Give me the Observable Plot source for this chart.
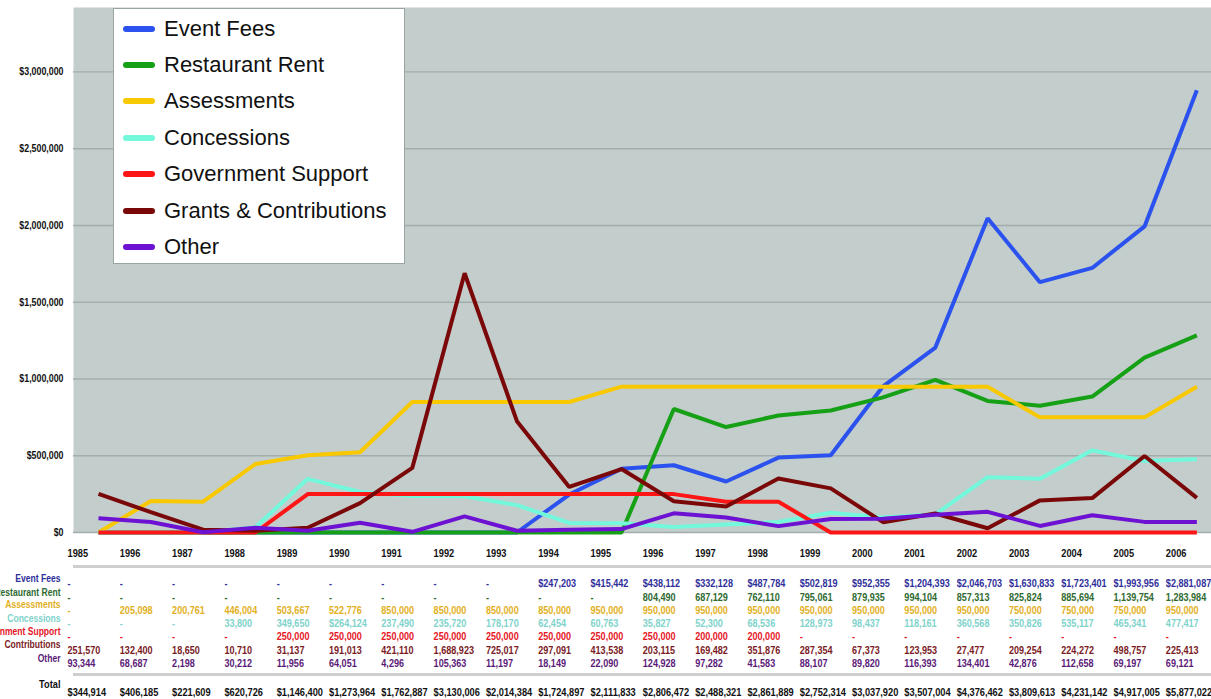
<!DOCTYPE html>
<html>
<head>
<meta charset="utf-8">
<script src="https://cdn.jsdelivr.net/npm/d3@7"></script>
<script src="https://cdn.jsdelivr.net/npm/@observablehq/plot@0.6"></script>
<style>
  html, body { margin:0; padding:0; background:#fff; overflow:hidden; }
  #wrap { position:relative; width:1211px; height:699px; }
  #legend { position:absolute; left:113px; top:8px; width:290px; height:254px; background:#fff; border:1px solid #9aa5a4; font-family:"Liberation Sans", Arial, sans-serif; }
  .li { position:absolute; left:0; height:30px; display:flex; align-items:center; }
  .sw { width:32px; height:6px; border-radius:3px; margin-left:9px; margin-right:9px; }
  .lt { font-size:22px; color:#111; white-space:nowrap; }
</style>
</head>
<body>
<div id="wrap"></div>
<script>
// ---- data ----
const yearLabels = ["1985","1996","1987","1988","1989","1990","1991","1992","1993","1994","1995","1996","1997","1998","1999","2000","2001","2002","2003","2004","2005","2006"];
const seriesNames = ["Event Fees","Restaurant Rent","Assessments","Concessions","Government Support","Grants & Contributions","Other"];
const tableLabels = ["Event Fees","Restaurant Rent","Assessments","Concessions","Government Support","Contributions","Other"];
const lineColors  = ["#2b52ee","#16a016","#f8c800","#74f8dc","#fe1515","#7a0808","#6d12d2"];
const tableColors = ["#2f2f9a","#2e6a30","#e2b01e","#80d3cb","#e5161f","#7a1b1f","#5c1a78"];

const eventFees = [null,null,null,null,null,null,null,null,null,247203,415442,438112,332128,487784,502819,952355,1204393,2046703,1630833,1723401,1993956,2881087];
const restaurantRent = [null,null,null,null,null,null,null,null,null,null,null,804490,687129,762110,795061,879935,994104,857313,825824,885694,1139754,1283984];
const assessments = [null,205098,200761,446004,503667,522776,850000,850000,850000,850000,950000,950000,950000,950000,950000,950000,950000,950000,750000,750000,750000,950000];
const concessions = [null,null,null,33800,349650,264124,237490,235720,178170,62454,60763,35827,52300,68536,128973,98437,118161,360568,350826,535117,465341,477417];
const governmentSupport = [null,null,null,null,250000,250000,250000,250000,250000,250000,250000,250000,200000,200000,null,null,null,null,null,null,null,null];
const grants = [251570,132400,18650,10710,31137,191013,421110,1688923,725017,297091,413538,203115,169482,351876,287354,67373,123953,27477,209254,224272,498757,225413];
const other = [93344,68687,2198,30212,11956,64051,4296,105363,11197,18149,22090,124928,97282,41583,88107,89820,116393,134401,42876,112658,69197,69121];
const totals = [344914,406185,221609,620726,1146400,1273964,1762887,3130006,2014384,1724897,2111833,2806472,2488321,2861889,2752314,3037920,3507004,4376462,3809613,4231142,4917005,5877022];
const yTicks = [0,500000,1000000,1500000,2000000,2500000,3000000];
// cells printed with a dollar sign in the table (row name, year index)
const dollarCells = [["Concessions",5]];

const seriesValues = [eventFees,restaurantRent,assessments,concessions,governmentSupport,grants,other];

// ---- build ----
const rows = seriesNames.flatMap((name,s) => seriesValues[s].map((v,i) => ({series:name, i, v: v ?? 0})));
const fmt = d3.format(",");
const FONT = "Liberation Sans, Arial, sans-serif";

const labelDy = [49,63,75,89,102,115,129];
const valueDy = [54,68,81,94,107,121,134];

const tableMarks = [];
seriesNames.forEach((name,s) => {
  tableMarks.push(Plot.text([tableLabels[s]], {text:d=>d, frameAnchor:"bottom-left", dx:-13, dy:labelDy[s], textAnchor:"end", fill:tableColors[s], fontSize:10.2, fontWeight:"bold"}));
  const cells = seriesValues[s].map((v,i) => ({i, t: v == null ? "-" : ((s===0 || dollarCells.some(c=>c[0]===name&&c[1]===i)) ? "$" : "") + fmt(v)}));
  tableMarks.push(Plot.text(cells, {x:"i", text:"t", frameAnchor:"bottom", dx:-31, dy:valueDy[s], textAnchor:"start", fill:tableColors[s], fontSize:10.8, fontWeight:"bold"}));
});
tableMarks.push(Plot.text(["Total"], {text:d=>d, frameAnchor:"bottom-left", dx:-13, dy:155, textAnchor:"end", fill:"#111", fontSize:11, fontWeight:"bold"}));
tableMarks.push(Plot.text(totals.map((v,i)=>({i,t:"$"+fmt(v)})), {x:"i", text:"t", frameAnchor:"bottom", dx:-31, dy:163, textAnchor:"start", fill:"#111", fontSize:11, fontWeight:"bold"}));

const chart = Plot.plot({
  width:1211, height:699,
  marginLeft:73, marginRight:0, marginTop:7, marginBottom:167,
  style:{background:"transparent", fontFamily:FONT, overflow:"hidden"},
  x:{domain:[-0.478,21.28], axis:null},
  y:{domain:[0,3420000], axis:null, label:null},
  color:{domain:seriesNames, range:lineColors},
  marks:[
    Plot.frame({fill:"#c2cdcc", stroke:null}),
    Plot.gridY(yTicks, {stroke:"#a2adac", strokeOpacity:1, strokeWidth:1.3}),
    Plot.axisY(yTicks, {tickSize:0, tickPadding:10, label:null, tickFormat:d=>"$"+fmt(d), fontSize:10.5, fontWeight:"bold", fill:"#111"}),
    Plot.line(rows, {x:"i", y:"v", z:"series", stroke:"series", strokeWidth:4, strokeLinejoin:"miter", strokeLinecap:"butt"}),
    Plot.ruleY([0], {dy:34, stroke:"#cfcfcf", strokeWidth:3}),
    Plot.ruleY([0], {dy:142, stroke:"#cfcfcf", strokeWidth:3}),
    Plot.text(yearLabels, {x:(d,i)=>i, text:d=>d, frameAnchor:"bottom", dx:-31, dy:24, textAnchor:"start", fill:"#111", fontSize:11, fontWeight:"bold"}),
    ...tableMarks
  ]
});
const wrap = document.getElementById("wrap");
wrap.appendChild(chart);

// condensed look: squeeze every svg text horizontally
const squeeze = 0.84;
chart.querySelectorAll("text").forEach(el => {
  const len = el.getComputedTextLength();
  if (len > 0) {
    el.setAttribute("textLength", (len * squeeze).toFixed(2));
    el.setAttribute("lengthAdjust", "spacingAndGlyphs");
  }
});

// legend (HTML, above the svg)
const legend = document.createElement("div");
legend.id = "legend";
const rowCenters = [20,56,92,129,165,202,238];
seriesNames.forEach((name,s) => {
  const it = document.createElement("div");
  it.className = "li";
  it.style.top = (rowCenters[s]-15) + "px";
  it.innerHTML = `<div class="sw" style="background:${lineColors[s]}"></div><div class="lt">${name.replace("&","&amp;")}</div>`;
  legend.appendChild(it);
});
wrap.appendChild(legend);
</script>
</body>
</html>
